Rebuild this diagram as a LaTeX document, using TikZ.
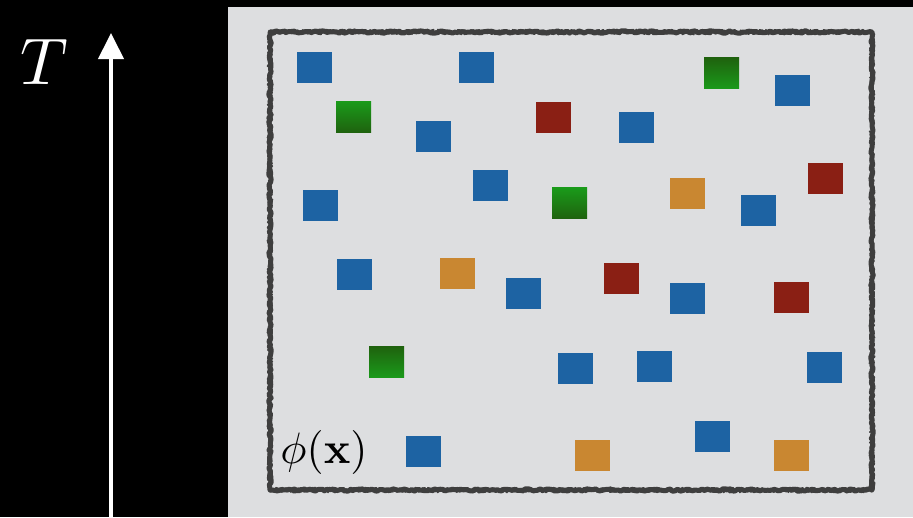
\documentclass[tikz,border=0pt]{standalone}
\usetikzlibrary{arrows.meta,decorations.pathmorphing}
\definecolor{panelbg}{HTML}{DDDEE0}
\definecolor{bordergray}{HTML}{3E3E3E}
\definecolor{sqblue}{HTML}{1D63A3}
\definecolor{sqred}{HTML}{8A1F14}
\definecolor{sqorange}{HTML}{C98731}
\definecolor{sqgreenL}{HTML}{1A9A1A}
\definecolor{sqgreenD}{HTML}{1F620E}
\tikzset{
  sq/.style={minimum width=35pt,minimum height=31pt,inner sep=0pt,draw=none},
  bluesq/.style={sq,fill=sqblue},
  redsq/.style={sq,fill=sqred},
  orangesq/.style={sq,fill=sqorange},
  greenup/.style={sq,top color=sqgreenL,bottom color=sqgreenD},
  greendown/.style={sq,top color=sqgreenD,bottom color=sqgreenL},
  roughborder/.style={draw=bordergray,line width=5pt,line join=round,
    decorate,decoration={random steps,segment length=2.5pt,amplitude=1.2pt}},
}
\begin{document}
\begin{tikzpicture}[x=1pt,y=-1pt]
\pgfmathsetseed{7}
\useasboundingbox (0,0) rectangle (913,517);
\fill[black] (0,0) rectangle (913,517);
\fill[panelbg] (228,7) rectangle (913,517);
% rough frame
\draw[roughborder] (270,32) rectangle (872,490);
\draw[roughborder,line width=2.5pt,decoration={random steps,segment length=1.8pt,amplitude=2pt}] (270,32) rectangle (872,490);
\draw[roughborder,line width=1.5pt,decoration={random steps,segment length=1.5pt,amplitude=2.6pt}] (270,32) rectangle (872,490);
% time axis
\coordinate (axbot) at (111,517);
\coordinate (axtop) at (111,33);
\draw[white,line width=4pt,-{Triangle[width=25pt,length=26pt]}] (axbot) -- (axtop);
\node[anchor=base,text=white,scale=6.6,inner sep=0pt] (T) at (44,84) {$T$};
\node[anchor=base,scale=4.4,inner sep=0pt] (phi) at (324,463) {$\phi(\mathbf{x})$};
% blue squares
\node[bluesq] (b1) at (314.5,67.5) {};
\node[bluesq] (b2) at (476.5,67.5) {};
\node[bluesq] (b3) at (792.5,90.3) {};
\node[bluesq] (b4) at (433,136) {};
\node[bluesq] (b5) at (636.7,127.8) {};
\node[bluesq] (b6) at (320.9,205.3) {};
\node[bluesq] (b7) at (490.7,185.8) {};
\node[bluesq] (b8) at (758.7,210.3) {};
\node[bluesq] (b9) at (354.6,274.3) {};
\node[bluesq] (b10) at (523.7,293.3) {};
\node[bluesq] (b11) at (687.7,298.8) {};
\node[bluesq] (b12) at (575.7,368.8) {};
\node[bluesq] (b13) at (654.7,366.3) {};
\node[bluesq] (b14) at (824.7,367.3) {};
\node[bluesq] (b15) at (423.7,451.3) {};
\node[bluesq] (b16) at (712,436.8) {};
% green squares
\node[greenup] (g1) at (353.5,117) {};
\node[greendown] (g2) at (721.5,73.3) {};
\node[greenup] (g3) at (569.7,203.3) {};
\node[greendown] (g4) at (386.7,361.8) {};
% red squares
\node[redsq] (r1) at (553.5,117.3) {};
\node[redsq] (r2) at (825.5,178.3) {};
\node[redsq] (r3) at (621.5,278.8) {};
\node[redsq] (r4) at (791.5,297.8) {};
% orange squares
\node[orangesq] (o1) at (687.7,193.3) {};
\node[orangesq] (o2) at (457.5,273.3) {};
\node[orangesq] (o3) at (592,455) {};
\node[orangesq] (o4) at (791.7,455) {};
\end{tikzpicture}
\end{document}
